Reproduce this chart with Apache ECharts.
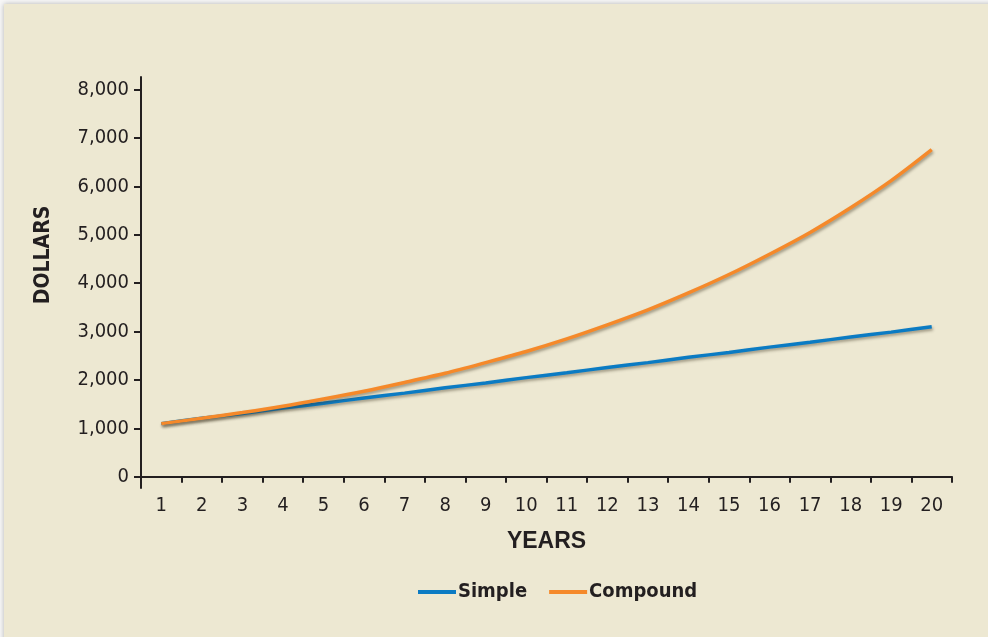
<!DOCTYPE html>
<html>
<head>
<meta charset="utf-8">
<script src="https://cdn.jsdelivr.net/npm/echarts@6/dist/echarts.min.js"></script>
<style>
  html, body { margin: 0; padding: 0; background: #f7f7f7; }
  #panel {
    position: absolute; left: 4px; top: 4px; width: 990px; height: 640px;
    background: #ede8d2; box-shadow: 0 0 5px rgba(0,0,0,0.28);
  }
  #chart { position: absolute; left: 0; top: 0; width: 988px; height: 637px; }
</style>
</head>
<body>
<div id="panel"></div>
<div id="chart"></div>
<script>
// Growth of $1,000 at 10% per year: simple vs. compound interest
const years = ['1','2','3','4','5','6','7','8','9','10','11','12','13','14','15','16','17','18','19','20'];
const simpleValues = [1100,1210,1310,1420,1520,1630,1730,1840,1940,2050,2150,2260,2360,2470,2570,2680,2780,2890,2990,3100];
const compoundValues = [1100,1210,1330,1460,1610,1770,1950,2140,2360,2590,2850,3140,3450,3800,4180,4600,5050,5560,6120,6760];
const dollarTicks = [0,1000,2000,3000,4000,5000,6000,7000,8000];

const ink = '#231f20';
const narrow = '"Liberation Sans Narrow", "DejaVu Sans Condensed", "Arial Narrow", sans-serif';
const lineShadow = { shadowColor: 'rgba(60,50,30,0.45)', shadowBlur: 3, shadowOffsetX: 1, shadowOffsetY: 2 };

const chart = echarts.init(document.getElementById('chart'), null, { renderer: 'canvas' });
chart.setOption({
  backgroundColor: 'transparent',
  animation: false,
  grid: { left: 141, right: 36, top: 77, bottom: 149, containLabel: false },
  xAxis: {
    type: 'category',
    data: years,
    boundaryGap: true,
    name: 'YEARS',
    nameLocation: 'middle',
    nameGap: 42,
    nameTextStyle: { fontFamily: '"Liberation Sans", Arial, sans-serif', fontWeight: 'bold', fontSize: 23, color: ink },
    axisLine: { show: true, lineStyle: { color: ink, width: 2 } },
    axisTick: { show: true, alignWithLabel: false, length: 6, lineStyle: { color: ink, width: 2 } },
    axisLabel: { color: ink, fontFamily: narrow, fontSize: 20, margin: 8 },
    splitLine: { show: false }
  },
  yAxis: {
    type: 'value',
    min: -230,
    max: 8260,
    axisLine: { show: true, lineStyle: { color: ink, width: 2 } },
    axisTick: { show: true, length: 7, customValues: dollarTicks, lineStyle: { color: ink, width: 2 } },
    axisLabel: {
      customValues: dollarTicks,
      color: ink, fontFamily: narrow, fontSize: 20, margin: 12,
      formatter: v => v.toLocaleString('en-US')
    },
    splitLine: { show: false }
  },
  legend: {
    top: 577,
    left: 413,
    icon: 'rect',
    itemWidth: 38,
    itemHeight: 4,
    itemGap: 22,
    textStyle: { fontFamily: narrow, fontWeight: 'bold', fontSize: 20, color: ink, padding: [0, 0, 0, -3] },
    data: ['Simple', 'Compound']
  },
  graphic: [{
    type: 'text',
    x: 44, y: 255,
    rotation: Math.PI / 2,
    style: {
      text: 'DOLLARS',
      fill: ink,
      font: 'bold 21px ' + narrow,
      align: 'center',
      verticalAlign: 'middle'
    }
  }],
  series: [
    {
      name: 'Simple', type: 'line', data: simpleValues,
      showSymbol: false, smooth: 0.2,
      itemStyle: { color: '#0b7bc3' },
      lineStyle: Object.assign({ color: '#0b7bc3', width: 3.5 }, lineShadow)
    },
    {
      name: 'Compound', type: 'line', data: compoundValues,
      showSymbol: false, smooth: 0.3,
      itemStyle: { color: '#f5892a' },
      lineStyle: Object.assign({ color: '#f5892a', width: 3.5 }, lineShadow)
    }
  ]
});
</script>
</body>
</html>
